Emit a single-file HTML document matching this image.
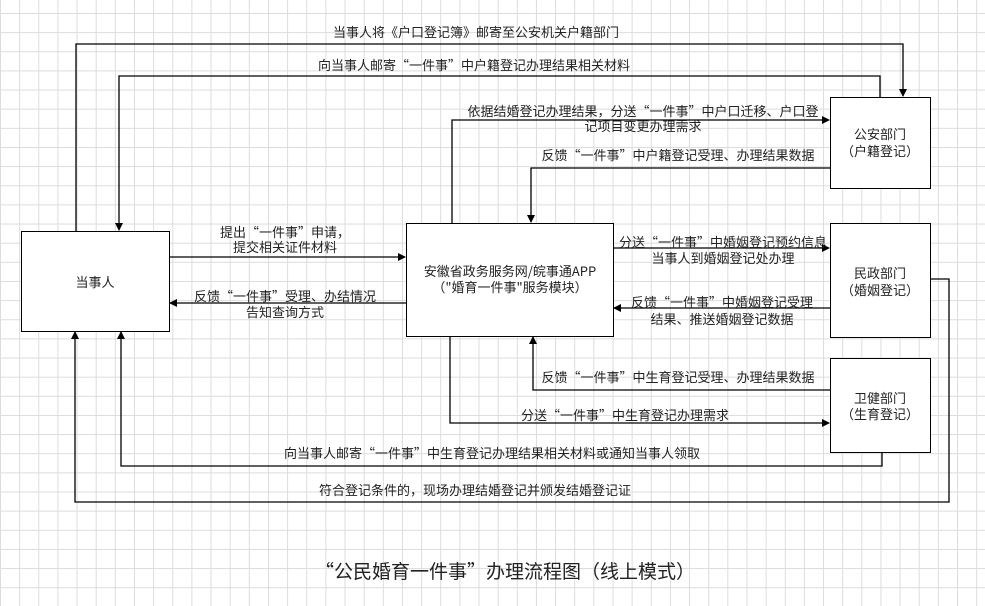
<!DOCTYPE html>
<html><head><meta charset="utf-8"><style>
html,body{margin:0;padding:0;}
body{width:985px;height:606px;overflow:hidden;background-color:#fff;
background-image:linear-gradient(to right,#dcdcdc 1px,transparent 1px),linear-gradient(to bottom,#dcdcdc 1px,transparent 1px);
background-size:19.15px 19.15px;background-position:0 13px;}
svg{position:absolute;left:0;top:0;}
text{font-family:"Noto Sans CJK SC","Liberation Sans",sans-serif;font-size:13px;fill:#222;text-anchor:middle;}
</style></head><body>
<svg width="985" height="606" viewBox="0 0 985 606">
<defs><marker id="a" markerWidth="8" markerHeight="8" refX="7" refY="4" orient="auto" markerUnits="userSpaceOnUse"><path d="M0,0 L8,4 L0,8 z" fill="#000"/></marker></defs>
<g fill="#fff" stroke="#000" stroke-width="1">
<rect x="21.5" y="231.5" width="148" height="100"/>
<rect x="406.5" y="223.5" width="207" height="113"/>
<rect x="830.5" y="97.5" width="100" height="91"/>
<rect x="830.5" y="223.5" width="100" height="114"/>
<rect x="830.5" y="358.5" width="100" height="94"/>
</g>
<g fill="none" stroke="#000" stroke-width="1.3" marker-end="url(#a)">
<path d="M76,231 V44 H903 V96"/>
<path d="M880,97 V76 H119 V230"/>
<path d="M452,223 V120 H829"/>
<path d="M830,168 H531 V222"/>
<path d="M169,257 H405"/>
<path d="M406,303 H170"/>
<path d="M613,248 H829"/>
<path d="M830,308 H614"/>
<path d="M830,390 H533 V337"/>
<path d="M450,336 V423 H829"/>
<path d="M882,452 V466 H121 V332"/>
<path d="M930,279 H949 V502 H75 V332"/>
</g>
<text x="95" y="287">当事人</text>
<text x="510" y="276">安徽省政务服务网/皖事通APP</text>
<text x="510" y="292">（"婚育一件事"服务模块）</text>
<text x="880" y="139">公安部门</text><text x="880" y="156">（户籍登记）</text>
<text x="880" y="278">民政部门</text><text x="880" y="295">（婚姻登记）</text>
<text x="880" y="403">卫健部门</text><text x="880" y="419">（生育登记）</text>
<text x="476" y="37">当事人将《户口登记簿》邮寄至公安机关户籍部门</text>
<text x="474" y="70">向当事人邮寄“一件事”中户籍登记办理结果相关材料</text>
<text x="643" y="116">依据结婚登记办理结果，分送“一件事”中户口迁移、户口登</text>
<text x="643" y="131">记项目变更办理需求</text>
<text x="678" y="160">反馈“一件事”中户籍登记受理、办理结果数据</text>
<text x="285" y="237">提出“一件事”申请，</text>
<text x="285" y="252">提交相关证件材料</text>
<text x="285" y="301">反馈“一件事”受理、办结情况</text>
<text x="285" y="317">告知查询方式</text>
<text x="723" y="247">分送“一件事”中婚姻登记预约信息</text>
<text x="723" y="263">当事人到婚姻登记处办理</text>
<text x="722" y="307">反馈“一件事”中婚姻登记受理</text>
<text x="722" y="324">结果、推送婚姻登记数据</text>
<text x="678" y="382">反馈“一件事”中生育登记受理、办理结果数据</text>
<text x="625" y="420">分送“一件事”中生育登记办理需求</text>
<text x="492" y="458">向当事人邮寄“一件事”中生育登记办理结果相关材料或通知当事人领取</text>
<text x="475" y="495">符合登记条件的，现场办理结婚登记并颁发结婚登记证</text>
<text x="505" y="578" style="font-size:19px">“公民婚育一件事”办理流程图（线上模式）</text>
</svg>
</body></html>
